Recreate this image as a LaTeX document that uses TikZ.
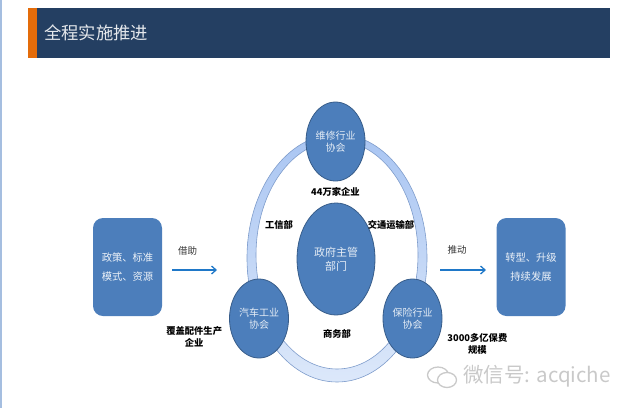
\documentclass[tikz,border=0pt]{standalone}
\usepackage{fontspec}
\usepackage{xcolor}
\setmainfont{Noto Sans CJK SC}
\usetikzlibrary{arrows.meta,positioning,shapes.geometric}
\definecolor{navy}{HTML}{243F62}
\definecolor{tab}{HTML}{E46C0A}
\definecolor{steel}{HTML}{4C7EBB}
\definecolor{steelEdge}{HTML}{385D8A}
\definecolor{ringTop}{HTML}{A9C5F2}
\definecolor{ringLow}{HTML}{DCE8FA}
\definecolor{ringEdge}{HTML}{7E9CCB}
\definecolor{flow}{HTML}{1F78C8}
\definecolor{stamp}{HTML}{C9C9C9}
\definecolor{rim}{HTML}{A5BEE0}
\tikzset{
  sidebox/.style={rounded corners=10pt,fill=steel,minimum width=69pt,minimum height=98pt,
                  inner sep=0pt,align=center,text=white!90!steel,font=\fontsize{10.3}{19}\selectfont},
  orgnode/.style={ellipse,draw=steelEdge,line width=0.8pt,fill=steel,inner sep=0pt,
                  minimum width=59pt,minimum height=79pt,align=center,text=white!85!steel,
                  font=\fontsize{10}{11.5}\selectfont},
  tag/.style={inner sep=0pt,align=center,text=black,font=\fontsize{9.3}{12}\selectfont\bfseries},
  verb/.style={inner sep=0pt,text=black!80,font=\fontsize{9.5}{12}\selectfont},
  pushflow/.style={-{Straight Barb[length=4.5pt,width=8pt]},line width=1.3pt,draw=flow},
  bubble/.style={ellipse,draw=stamp,line width=1.3pt,fill=white,inner sep=0pt}
}
\begin{document}
\begin{tikzpicture}[x=1pt,y=-1pt,node distance=6pt]
  \useasboundingbox (0,0) rectangle (640,408);
  \fill[rim] (0,0) rectangle (2,408);
  \node[fill=navy,anchor=north west,minimum width=573pt,minimum height=50pt,inner sep=0pt,
        text width=559pt,text=white!88!navy,font=\fontsize{17.3}{20}\selectfont] (header) at (37,8) {\raisebox{-1pt}{全程实施推进}};
  \node[fill=tab,anchor=north east,minimum width=9pt,minimum height=50pt,inner sep=0pt] (tabmark) at (header.north west) {};
  \coordinate (ringc) at (337,258);
  \path[draw=ringEdge,line width=0.6pt,top color=ringTop,bottom color=ringLow,even odd rule]
    (ringc) ellipse [x radius=90,y radius=124] (337,255) ellipse [x radius=81,y radius=114];
  \node[sidebox] (policy) at (127.5,267) {政策、标准\\模式、资源};
  \node[sidebox] (upgrade) at (531,267) {转型、升级\\持续发展};
  \node[orgnode,minimum width=78pt,minimum height=112pt,font=\fontsize{11}{14}\selectfont] (gov) at (336,259) {政府主管\\部门};
  \node[orgnode] (repair) at (335.5,141.5) {维修行业\\协会};
  \node[orgnode] (auto) at (259,318.5) {汽车工业\\协会};
  \node[orgnode] (insure) at (412.5,318.5) {保险行业\\协会};
  \node[tag,below=of repair] (shops) {44万家企业};
  \node[tag] (miit) at (279,225) {工信部};
  \node[tag] (transport) at (391,225) {交通运输部};
  \node[tag] (commerce) at (337,334) {商务部};
  \node[tag,left=15.6pt of auto.south west,yshift=10pt] (parts) {覆盖配件生产\\企业};
  \node[tag,right=13.6pt of insure.south east,yshift=3pt] (premium) {3000多亿保费\\规模};
  \coordinate (borrowa) at (172,270);
  \coordinate (borrowb) at (217,270);
  \coordinate (pusha) at (440,270);
  \coordinate (pushb) at (486,270);
  \draw[pushflow] (borrowa) -- (borrowb);
  \draw[pushflow] (pusha) -- (pushb);
  \node[verb] (borrow) at (187.5,251) {借助};
  \node[verb] (push) at (457,250) {推动};
  \node[bubble,minimum width=21pt,minimum height=16pt] (bubblea) at (438,375) {};
  \node[bubble,minimum width=19pt,minimum height=15pt] (bubbleb) at (447,380) {};
  \node[anchor=west,inner sep=0pt,text=stamp,font=\fontsize{20.5}{22}\selectfont] (stampmark) at (463,376) {微信号: acqiche};
\end{tikzpicture}
\end{document}
